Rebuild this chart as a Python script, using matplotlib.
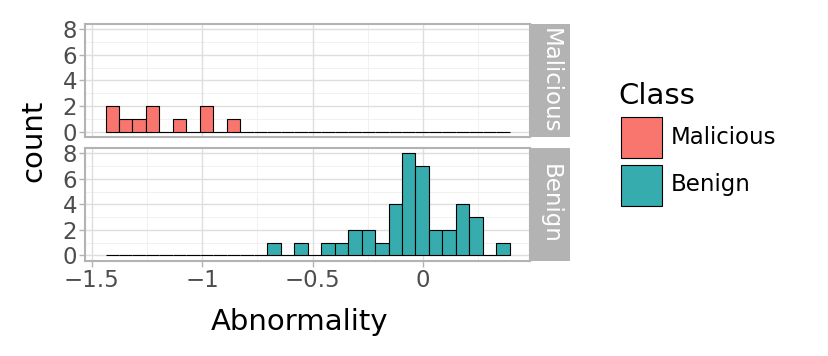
import numpy as np
import matplotlib
matplotlib.use("Agg")
import matplotlib.pyplot as plt
from matplotlib.patches import Rectangle

# ---- data ----
classes = ["Malicious", "Benign"]
class_colors = ["#F8766D", "#37ACAE"]
x_min, x_max = -1.437, 0.393   # range covered by the 30 histogram bins
n_bins = 30
malicious_counts = [2, 1, 1, 2, 0, 1, 0, 2, 0, 1,
                    0, 0, 0, 0, 0, 0, 0, 0, 0, 0,
                    0, 0, 0, 0, 0, 0, 0, 0, 0, 0]
benign_counts = [0, 0, 0, 0, 0, 0, 0, 0, 0, 0,
                 0, 0, 1, 0, 1, 0, 1, 1, 2, 2,
                 1, 4, 8, 7, 2, 2, 4, 3, 0, 1]
x_ticks = [-1.5, -1.0, -0.5, 0.0]
x_ticklabels = ["\u22121.5", "\u22121", "\u22120.5", "0"]
y_ticks = [0, 2, 4, 6, 8]

W, H = 829, 356
fig = plt.figure(figsize=(W / 100, H / 100), dpi=100)

edges = np.linspace(x_min, x_max, n_bins + 1)
widths = np.diff(edges)
span = x_max - x_min
xlim = (x_min - 0.05 * span, x_max + 0.05 * span)
ylim = (-0.4, 8.4)

border_col = "#B3B3B3"
grid_major = "#DEDEDE"
grid_minor = "#EFEFEF"
tick_col = "#4D4D4D"

def fx(px):
    return px / W

def fy(py):
    return 1 - py / H

panels = [(24.3, 136.7), (148.3, 260.5)]
left_px, right_px, strip_px = 85.3, 530.0, 570.0

for i, (cls, col, counts) in enumerate(zip(classes, class_colors,
                                           [malicious_counts, benign_counts])):
    top, bot = panels[i]
    ax = fig.add_axes([fx(left_px), fy(bot), fx(right_px - left_px), (bot - top) / H])
    ax.set_xlim(*xlim)
    ax.set_ylim(*ylim)
    # grid
    for v in [-1.25, -0.75, -0.25, 0.25]:
        ax.axvline(v, color=grid_minor, lw=0.6, zorder=0)
    for v in [1, 3, 5, 7]:
        ax.axhline(v, color=grid_minor, lw=0.6, zorder=0)
    for v in x_ticks:
        ax.axvline(v, color=grid_major, lw=1.0, zorder=0)
    for v in y_ticks:
        ax.axhline(v, color=grid_major, lw=1.0, zorder=0)
    ax.bar(edges[:-1], counts, width=widths, align="edge", color=col,
           edgecolor="black", linewidth=0.8, zorder=2)
    for s in ax.spines.values():
        s.set_color(border_col)
        s.set_linewidth(1.5)
    ax.set_yticks(y_ticks)
    ax.set_yticklabels([str(t) for t in y_ticks])
    ax.set_xticks(x_ticks)
    ax.tick_params(axis="both", colors=border_col, labelcolor=tick_col,
                   labelsize=16.5, length=4, width=1.0, pad=2)
    if i == 0:
        ax.set_xticklabels([])
        ax.tick_params(axis="x", length=0)
    else:
        ax.set_xticklabels(x_ticklabels)
    # strip
    sax = fig.add_axes([fx(right_px), fy(bot), fx(strip_px - right_px), (bot - top) / H])
    sax.set_facecolor(border_col)
    sax.set_xticks([])
    sax.set_yticks([])
    for s in sax.spines.values():
        s.set_visible(False)
    sax.text(0.5, 0.5, cls, rotation=-90, color="white", fontsize=16.5,
             ha="center", va="center", transform=sax.transAxes)

fig.text(fx(33), fy(141), "count", rotation=90, fontsize=21,
         ha="center", va="center")
fig.text(fx(300), fy(322), "Abnormality", fontsize=21,
         ha="center", va="center")

# legend
fig.text(fx(618), fy(96), "Class", fontsize=21, ha="left", va="center")
key_tops = [117.3, 164.5]
for cls, col, kt in zip(classes, class_colors, key_tops):
    fig.add_artist(Rectangle((fx(620.7), fy(kt + 41)), fx(41), 41 / H,
                             transform=fig.transFigure, facecolor=col,
                             edgecolor="black", linewidth=0.8))
    fig.text(fx(671), fy(kt + 20.5), cls, fontsize=16.5, ha="left", va="center")

fig.savefig("out.png", dpi=100)
